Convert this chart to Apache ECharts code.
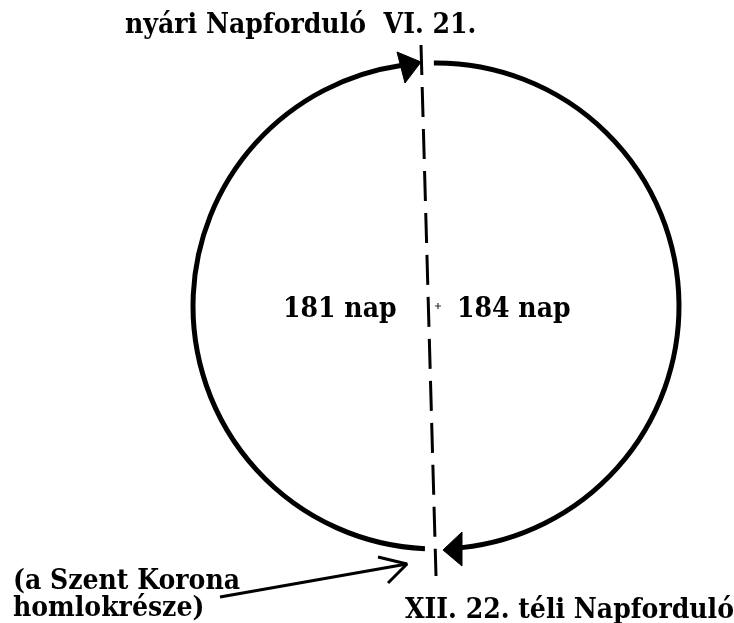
<!DOCTYPE html>
<html>
<head>
<meta charset="utf-8">
<script src="https://cdn.jsdelivr.net/npm/echarts@6/dist/echarts.min.js"></script>
<style>
html, body { margin: 0; padding: 0; background: #fff; }
#chart { width: 734px; height: 623px; }
</style>
</head>
<body>
<div id="chart"></div>
<script>
// pixel-like coordinate space of the drawing (x to the right, y downward)
var circleCenter = [436, 306];
var circleRadius = 243;
// arcs of the orbit, degrees, clockwise on screen
var orbitArcs = [[92.6, 261.7], [269.5, 443.9]];
// filled arrow heads on the orbit
var arrowHeads = [
	[[397, 52], [421, 62], [405, 83]],
	[[462, 532], [443, 550], [462, 566]]
];
var solsticeLine = [[421, 45], [436, 576]];
var pointerLine = [[220, 597], [407, 564]];
var pointerHead = [[378, 557], [407, 564], [388, 583]];
var centerMark = [[438, 306]];

var labelTop = 'nyári Napforduló  VI. 21.';
var labelLeftDays = '181 nap';
var labelRightDays = '184 nap';
var labelCrown = ['(a Szent Korona', 'homlokrésze)'];
var labelBottom = 'XII. 22. téli Napforduló';

var font = 'bold 28px "DejaVu Serif Condensed", "DejaVu Serif", serif';

var chart = echarts.init(document.getElementById('chart'));

function txt(text, x, y) {
	return {
		type: 'text',
		x: x,
		y: y,
		style: {
			text: text,
			font: font,
			fill: '#000',
			textAlign: 'left',
			textVerticalAlign: 'middle'
		}
	};
}

var option = {
	backgroundColor: '#fff',
	animation: false,
	grid: { left: 0, right: 0, top: 0, bottom: 0 },
	xAxis: { type: 'value', min: 0, max: 734, show: false },
	yAxis: { type: 'value', min: 0, max: 623, inverse: true, show: false },
	series: [
		{
			// orbit
			type: 'custom',
			clip: false,
			data: orbitArcs.map(function (a) {
				return [circleCenter[0], circleCenter[1], circleRadius, a[0], a[1]];
			}),
			renderItem: function (params, api) {
				var c = api.coord([api.value(0), api.value(1)]);
				var r = api.size([api.value(2), 0])[0];
				return {
					type: 'arc',
					shape: {
						cx: c[0],
						cy: c[1],
						r: r,
						startAngle: api.value(3) * Math.PI / 180,
						endAngle: api.value(4) * Math.PI / 180,
						clockwise: true
					},
					style: { stroke: '#000', lineWidth: 5, fill: null }
				};
			}
		},
		{
			// arrow heads
			type: 'custom',
			clip: false,
			data: arrowHeads.map(function (h) { return h[1]; }),
			renderItem: function (params, api) {
				var pts = arrowHeads[params.dataIndex].map(function (p) {
					return api.coord(p);
				});
				return {
					type: 'polygon',
					shape: { points: pts },
					style: { fill: '#000', stroke: '#000', lineWidth: 1 }
				};
			}
		},
		{
			type: 'line',
			data: solsticeLine,
			symbol: 'none',
			lineStyle: { color: '#000', width: 3, type: [30, 12] }
		},
		{
			type: 'line',
			data: pointerLine,
			symbol: 'none',
			lineStyle: { color: '#000', width: 3 }
		},
		{
			type: 'line',
			data: pointerHead,
			symbol: 'none',
			lineStyle: { color: '#000', width: 3 }
		},
		{
			type: 'scatter',
			data: centerMark,
			symbol: 'path://M4,0 L6,0 L6,4 L10,4 L10,6 L6,6 L6,10 L4,10 L4,6 L0,6 L0,4 L4,4 Z',
			symbolSize: 6,
			itemStyle: { color: '#000' }
		}
	],
	graphic: [
		txt(labelTop, 125, 26),
		txt(labelLeftDays, 283, 310),
		txt(labelRightDays, 457, 310),
		txt(labelCrown[0], 13, 582),
		txt(labelCrown[1], 13, 609),
		txt(labelBottom, 405, 611)
	]
};

chart.setOption(option);
</script>
</body>
</html>
